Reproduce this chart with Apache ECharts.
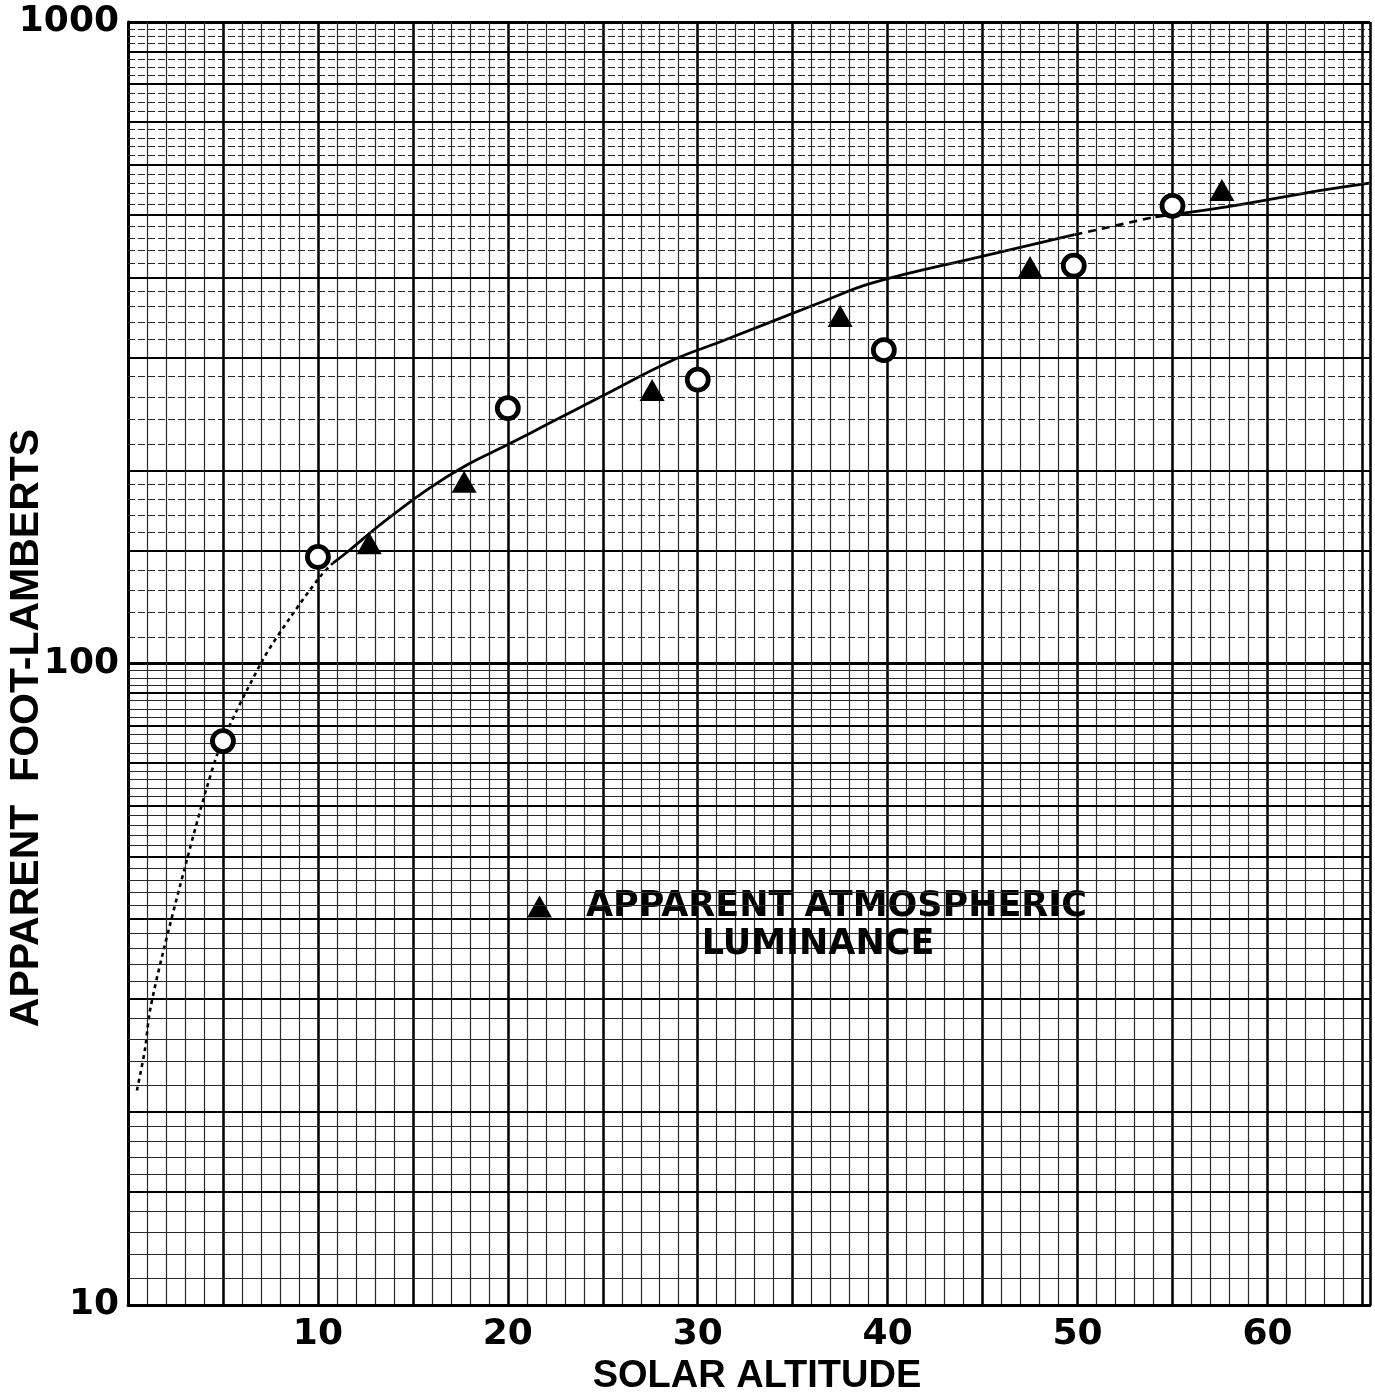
<!DOCTYPE html>
<html>
<head>
<meta charset="utf-8">
<script src="https://cdn.jsdelivr.net/npm/echarts@6/dist/echarts.min.js"></script>
<style>
body { margin: 0; background: #fff; }
#chart { width: 1375px; height: 1395px; }
</style>
</head>
<body>
<div id="chart"></div>
<script>
// measured points (open circles)
var circleX = [5, 10, 20, 30, 39.8, 49.8, 55]
var circleY = [75.7, 146.6, 250, 277, 308, 417, 517]
// apparent atmospheric luminance (triangles)
var triX = [12.7, 17.7, 27.6, 37.5, 47.5, 57.6]
var triY = [154, 192, 267, 348, 415, 547]
// fitted curve, dotted low part
var lowX = [0.47, 0.89, 1.16, 1.84, 3.1, 4.16, 4.95, 7.1, 8.53, 10.1, 10.79]
var lowY = [21.6, 25.0, 28.8, 35.4, 49.4, 64.2, 75.4, 101.3, 117.8, 136.4, 143.4]
// fitted curve, solid part
var midX = [10.79, 11.68, 13.26, 15.74, 17.84, 19.95, 22.2, 24.84, 28.68, 31.16, 36.42, 39.2, 44.79, 49.84]
var midY = [143.4, 150.3, 164.4, 186.5, 203.9, 219, 237, 260, 297, 317, 365, 392, 430, 466]
// dashed stretch and solid end
var gapX = [49.84, 54.1]
var gapY = [466, 497]
var endX = [54.1, 57.84, 62.9, 65.37]
var endY = [497, 515, 547, 561]

var xLabels = [10, 20, 30, 40, 50, 60]
var decades = [10, 100]
// log paper rulings inside one decade
var paperMajor = [2, 3, 4, 5, 6, 7, 8, 9]
var paperMid = [1.5]
var paperMinor = [1.1, 1.2, 1.3, 1.4, 1.6, 1.7, 1.8, 1.9,
    2.2, 2.4, 2.6, 2.8, 3.2, 3.4, 3.6, 3.8, 4.2, 4.4, 4.6, 4.8,
    5.2, 5.4, 5.6, 5.8, 6.2, 6.4, 6.6, 6.8, 7.25, 7.5, 7.75,
    8.25, 8.5, 8.75, 9.25, 9.5, 9.75]

function zip(a, b) {
    var out = []
    for (var i = 0; i < a.length; i++) out.push([a[i], b[i]])
    return out
}

function paperLines() {
    var lines = []
    decades.forEach(function (d) {
        paperMinor.forEach(function (m) {
            lines.push({yAxis: m * d, lineStyle: {color: '#2a2a2a', width: 1.2, type: d > 10 ? [7, 3] : 'solid'}})
        })
        paperMid.forEach(function (m) {
            lines.push({yAxis: m * d, lineStyle: {color: '#000', width: 2, type: 'solid'}})
        })
        paperMajor.forEach(function (m) {
            lines.push({yAxis: m * d, lineStyle: {color: '#000', width: 2.2, type: 'solid'}})
        })
    })
    return lines
}

var digitFont = {fontFamily: 'DejaVu Sans', fontWeight: 'bold', fontSize: 36, color: '#000'}

var myChart = echarts.init(document.getElementById('chart'))
var option = {
    backgroundColor: '#fff',
    animation: false,
    grid: {left: 128, top: 22, right: 5, bottom: 90, outerBoundsMode: 'none', containLabel: false},
    legend: {
        data: ['APPARENT ATMOSPHERIC LUMINANCE'],
        left: 522,
        top: 884,
        icon: 'triangle',
        itemWidth: 25,
        itemHeight: 22,
        selectedMode: false,
        formatter: function () {
            return '{g|}{t|APPARENT ATMOSPHERIC}'
        },
        textStyle: {
            rich: {
                g: {width: 29},
                t: {fontFamily: 'DejaVu Sans', fontWeight: 'bold', fontSize: 35, color: '#000'}
            }
        }
    },
    graphic: [
        {
            type: 'text',
            x: 818, y: 945,
            style: {
                text: 'LUMINANCE', align: 'center', verticalAlign: 'middle',
                font: 'bold 35px "DejaVu Sans"', fill: '#000'
            },
            z: 10
        },
        {
            type: 'text',
            x: 27, y: 728,
            rotation: Math.PI / 2,
            style: {
                text: 'APPARENT  FOOT-LAMBERTS', align: 'center', verticalAlign: 'middle',
                font: 'bold 41px "Liberation Sans"', fill: '#000'
            }
        }
    ],
    xAxis: [
        {
            type: 'value', min: 0, max: 65.4, interval: 1, position: 'bottom',
            axisLine: {show: false}, axisTick: {show: false}, axisLabel: {show: false},
            splitLine: {show: true, lineStyle: {color: '#2a2a2a', width: 1.2}}
        },
        {
            type: 'value', min: 0, max: 65.4, interval: 5, position: 'bottom',
            axisLine: {show: true, onZero: false, lineStyle: {color: '#000', width: 3}},
            axisTick: {show: false},
            axisLabel: Object.assign({
                margin: 12,
                formatter: function (v) {
                    return xLabels.indexOf(v) >= 0 ? String(v) : ''
                }
            }, digitFont),
            splitLine: {show: true, lineStyle: {color: '#000', width: 2.5}},
            name: 'SOLAR ALTITUDE',
            nameLocation: 'middle',
            nameGap: 52,
            nameTextStyle: {
                fontFamily: 'Liberation Sans', fontWeight: 'bold', fontSize: 38, color: '#000',
                padding: [0, 0, 0, 16]
            }
        }
    ],
    yAxis: {
        type: 'log', logBase: 10, min: 10, max: 1000,
        axisLine: {show: true, onZero: false, lineStyle: {color: '#000', width: 3}},
        axisTick: {show: false},
        axisLabel: Object.assign({
            margin: 9,
            formatter: function (v) { return String(Math.round(v)) }
        }, digitFont),
        splitLine: {show: true, lineStyle: {color: '#000', width: 3}}
    },
    series: [
        {
            name: 'paper',
            type: 'line',
            data: [],
            silent: true,
            z: 1,
            markLine: {
                silent: true,
                symbol: ['none', 'none'],
                label: {show: false},
                animation: false,
                data: paperLines()
            }
        },
        {
            name: 'curve low',
            type: 'line',
            data: zip(lowX, lowY),
            showSymbol: false,
            smooth: 0.3,
            z: 3,
            lineStyle: {color: '#000', width: 2.6, type: [4, 4]}
        },
        {
            name: 'curve',
            type: 'line',
            data: zip(midX, midY),
            showSymbol: false,
            smooth: 0.4,
            z: 3,
            lineStyle: {color: '#000', width: 2.8}
        },
        {
            name: 'curve gap',
            type: 'line',
            data: zip(gapX, gapY),
            showSymbol: false,
            smooth: 0.3,
            z: 3,
            lineStyle: {color: '#000', width: 2.6, type: [8, 6]}
        },
        {
            name: 'curve end',
            type: 'line',
            data: zip(endX, endY),
            showSymbol: false,
            smooth: 0.4,
            z: 3,
            lineStyle: {color: '#000', width: 2.8}
        },
        {
            name: 'measured',
            type: 'scatter',
            data: zip(circleX, circleY),
            symbol: 'circle',
            symbolSize: 21,
            z: 5,
            itemStyle: {color: '#fff', borderColor: '#000', borderWidth: 4.8, opacity: 1}
        },
        {
            name: 'APPARENT ATMOSPHERIC LUMINANCE',
            type: 'scatter',
            data: zip(triX, triY),
            symbol: 'triangle',
            symbolSize: [25, 22],
            z: 5,
            itemStyle: {color: '#000', opacity: 1}
        }
    ]
}
myChart.setOption(option)
</script>
</body>
</html>
